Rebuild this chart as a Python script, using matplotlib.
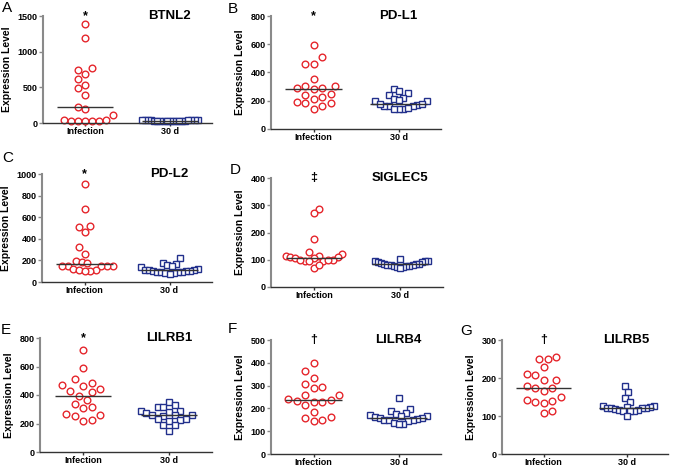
import numpy as np
import matplotlib
matplotlib.use('Agg')
import matplotlib.pyplot as plt

plt.rcParams['font.family'] = ['Liberation Sans', 'DejaVu Sans']
plt.rcParams['font.weight'] = 'bold'

groups = ['Infection', '30 d']

# values, one array per group and panel
btnl2_inf = [1393, 1188, 769, 750, 690, 615, 531, 489, 396, 219, 200, 112, 40, 35, 30, 28, 25, 32, 38]
btnl2_30d = [45, 42, 40, 38, 35, 33, 30, 28, 26, 25, 24, 26, 28, 30, 33, 36, 40, 43, 46]

pdl1_inf = [598, 511, 462, 462, 352, 307, 307, 293, 284, 289, 251, 242, 230, 211, 188, 181, 181, 160, 141]
pdl1_30d = [282, 270, 258, 242, 218, 211, 206, 195, 195, 171, 176, 160, 160, 145, 141, 145, 152, 164, 175]

pdl2_inf = [905, 680, 520, 505, 462, 326, 262, 194, 185, 175, 150, 148, 148, 148, 148, 123, 108, 108, 102, 100]
pdl2_30d = [218, 175, 169, 160, 152, 138, 123, 115, 110, 108, 105, 100, 98, 95, 92, 90, 88, 85, 80, 75]

siglec5_inf = [286, 272, 176, 127, 121, 115, 115, 109, 109, 105, 105, 98, 94, 94, 94, 98, 98, 70, 80]
siglec5_30d = [103, 97, 95, 94, 92, 90, 88, 86, 85, 84, 82, 80, 80, 78, 76, 76, 73, 72, 70]

lilrb1_inf = [713, 589, 512, 484, 468, 461, 444, 426, 419, 395, 367, 334, 313, 309, 267, 257, 255, 227, 215]
lilrb1_30d = [351, 332, 316, 316, 290, 285, 281, 274, 262, 257, 257, 255, 234, 234, 222, 215, 192, 187, 150]

lilrb4_inf = [401, 364, 332, 306, 293, 289, 259, 257, 241, 235, 232, 230, 226, 216, 184, 162, 159, 150, 143]
lilrb4_30d = [245, 197, 190, 179, 176, 169, 168, 165, 162, 157, 157, 155, 150, 150, 148, 143, 138, 133, 131]

lilrb5_inf = [256, 249, 249, 228, 211, 208, 195, 195, 179, 173, 173, 167, 151, 143, 140, 136, 134, 112, 109]
lilrb5_30d = [178, 163, 147, 136, 127, 127, 125, 123, 122, 122, 121, 120, 118, 116, 116, 114, 114, 112, 101]

letters = ['A', 'B', 'C', 'D', 'E', 'F', 'G']
titles = ['BTNL2', 'PD-L1', 'PD-L2', 'SIGLEC5', 'LILRB1', 'LILRB4', 'LILRB5']
marks = ['*', '*', '*', '\u2021', '*', '\u2020', '\u2020']
y_max = [1500, 800, 1000, 400, 800, 500, 300]
y_step = [500, 200, 200, 100, 200, 100, 100]
infection = [btnl2_inf, pdl1_inf, pdl2_inf, siglec5_inf, lilrb1_inf, lilrb4_inf, lilrb5_inf]
day30 = [btnl2_30d, pdl1_30d, pdl2_30d, siglec5_30d, lilrb1_30d, lilrb4_30d, lilrb5_30d]

W, H = 674, 469
# axes boxes in pixels: left, top, right, bottom
boxes = [(43, 16, 212, 123), (271, 16, 441, 129),
         (42, 174, 212, 282), (271, 178, 443, 287),
         (40, 338, 212, 452), (271, 340, 441, 454), (502, 340, 668, 454)]
letter_pos = [(2, 1), (228, 2), (2, 151), (230, 163), (1, 323), (228, 322), (460, 324)]

RED = '#e5262c'
BLUE = '#22308c'


def swarm(vals, py, px, d=8.5, maxhalf=0.33):
    """beeswarm offsets (data units) so markers of d px don't collide"""
    vals = np.asarray(vals, float)
    xs = np.zeros(len(vals))
    placed = []
    g = d / 2
    for i in np.argsort(vals):
        y = vals[i] * py
        k = 0
        done = False
        while not done:
            s = -1 if sum(p[0] for p in placed) > 0 else 1
            cands = [0.0] if k == 0 else [s * k * g, -s * k * g]
            for c in cands:
                if all((c - a) ** 2 + (y - b) ** 2 >= d * d for a, b in placed):
                    xs[i] = c
                    placed.append((c, y))
                    done = True
                    break
            k += 1
    xs = xs / px
    m = np.abs(xs).max()
    if m > maxhalf:
        xs *= maxhalf / m
    return xs


fig = plt.figure(figsize=(W / 100, H / 100), dpi=100)

for n in range(7):
    l, t, r, b = boxes[n]
    ax = fig.add_axes([l / W, 1 - b / H, (r - l) / W, (b - t) / H])
    ax.set_xlim(-0.5, 1.5)
    ax.set_ylim(0, y_max[n])
    py = (b - t) / y_max[n]
    px = (r - l) / 2.0

    for pos, vals, mk, col in [(0, infection[n], 'o', RED), (1, day30[n], 's', BLUE)]:
        off = swarm(vals, py, px)
        ax.plot(pos + off, vals, mk, ms=4.8, mfc='white', mec=col, mew=1.0,
                linestyle='none', zorder=2, clip_on=False)
        ax.hlines(np.median(vals), pos - 0.33, pos + 0.33, color='#333333', lw=1, zorder=3)

    ax.text(0, y_max[n], marks[n], ha='center', va='center', fontsize=9, fontweight='bold')
    ax.text(1, y_max[n], titles[n], ha='center', va='center', fontsize=9.5, fontweight='bold')

    ax.set_yticks(np.arange(0, y_max[n] + 1, y_step[n]))
    ax.set_xticks([0, 1])
    ax.set_xticklabels(groups)
    ax.set_ylabel('Expression Level', fontsize=7.5, fontweight='bold', labelpad=4)
    for sp in ['top', 'right']:
        ax.spines[sp].set_visible(False)
    ax.spines['left'].set_color('#8a8a8a')
    ax.spines['left'].set_linewidth(1.5)
    ax.spines['bottom'].set_color('#333333')
    ax.spines['bottom'].set_linewidth(1)
    ax.tick_params(axis='y', length=3, width=1, color='#8a8a8a', labelsize=6.5, pad=1)
    ax.tick_params(axis='x', length=2, width=1, color='#333333', labelsize=6.5, pad=1)

    lx, ly = letter_pos[n]
    fig.text(lx / W, 1 - ly / H, letters[n], ha='left', va='top', fontsize=11, fontweight='normal')

fig.savefig('out.png', dpi=100)
